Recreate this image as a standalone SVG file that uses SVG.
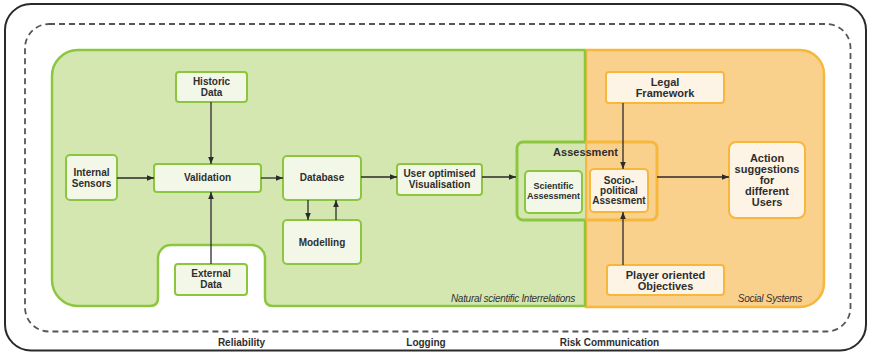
<svg xmlns="http://www.w3.org/2000/svg" width="869" height="354" viewBox="0 0 869 354">
  <defs>
    <marker id="arrow" viewBox="0 0 10 10" refX="10" refY="5" markerWidth="7" markerHeight="7" markerUnits="userSpaceOnUse" orient="auto">
      <path d="M0,1 L10,5 L0,9 Z" fill="#2b2b2b"/>
    </marker>
    <clipPath id="clipLeft"><rect x="0" y="0" width="585.5" height="354"/></clipPath>
    <clipPath id="clipRight"><rect x="585.5" y="0" width="300" height="354"/></clipPath>
  </defs>
  <style>
    .lbl { font-family: "Liberation Sans", Arial, sans-serif; font-weight: bold; fill: #2e2e2e; text-anchor: middle; }
    .s10 { font-size: 10px; }
    .s9 { font-size: 9px; }
    .s11 { font-size: 11px; }
    .zone { font-family: "Liberation Sans", Arial, sans-serif; font-style: italic; font-size: 10px; letter-spacing: -0.3px; fill: #333; text-anchor: end; }
    .gnode { fill: #f3f7e8; stroke: #8cc63f; stroke-width: 2; }
    .onode { fill: #fdf4e5; stroke: #f6b83c; stroke-width: 2; }
    .conn { stroke: #2b2b2b; stroke-width: 1.3; fill: none; marker-end: url(#arrow); }
    .gline { stroke: #8cc63f; stroke-width: 2.5; fill: none; }
  </style>

  <!-- outer frame -->
  <rect x="5" y="4" width="861" height="346.5" rx="26" ry="26" fill="#ffffff" stroke="#2a2a2a" stroke-width="2"/>
  <!-- dashed boundary -->
  <rect x="25" y="24" width="825.5" height="307.5" rx="24" ry="24" fill="none" stroke="#555" stroke-width="1.8" stroke-dasharray="6,4"/>

  <!-- social systems zone -->
  <g id="zone-social">
    <path d="M586,50 H800 A24,24 0 0 1 824,74 V283 A24,24 0 0 1 800,307 H586 Z" fill="#f9d08c" stroke="#f6b83c" stroke-width="2.5"/>
    <text class="zone" x="802" y="302">Social Systems</text>
  </g>

  <!-- natural scientific zone -->
  <g id="zone-natural">
    <path d="M585,50 H78 A26,26 0 0 0 52,76 V280 A26,26 0 0 0 78,306 H150 Q158,306 158,298 V258 A13,13 0 0 1 171,245 H252 A13,13 0 0 1 265,258 V298 Q265,306 273,306 H585 Z" fill="#d4e7b1"/>
    <path class="gline" d="M585,50 H78 A26,26 0 0 0 52,76 V280 A26,26 0 0 0 78,306 H150 Q158,306 158,298 V258 A13,13 0 0 1 171,245 H252 A13,13 0 0 1 265,258 V298 Q265,306 273,306 H585"/>
    <!-- zone divider, interrupted by the assessment frame -->
    <path class="gline" d="M585,50 V142 M585,220 V306"/>
    <text class="zone" x="575" y="302">Natural scientific Interrelations</text>
  </g>

  <!-- assessment container -->
  <g id="assessment">
    <rect x="517" y="142" width="140" height="78" rx="6" fill="none" stroke="#8cc63f" stroke-width="3" clip-path="url(#clipLeft)"/>
    <rect x="517" y="142" width="140" height="78" rx="6" fill="none" stroke="#f6b83c" stroke-width="3" clip-path="url(#clipRight)"/>
    <text class="lbl s11" x="585.5" y="156">Assessment</text>
  </g>

  <g id="historic-data">
    <rect class="gnode" x="176" y="72" width="71" height="30" rx="3"/>
    <text class="lbl s10" x="211.5" y="84.5">Historic</text>
    <text class="lbl s10" x="211.5" y="95.5">Data</text>
  </g>
  <g id="internal-sensors">
    <rect class="gnode" x="66" y="155" width="51" height="45" rx="4"/>
    <text class="lbl s10" x="91.5" y="175.5">Internal</text>
    <text class="lbl s10" x="91.5" y="186.5">Sensors</text>
  </g>
  <g id="validation">
    <rect class="gnode" x="154" y="164" width="107" height="28" rx="3"/>
    <text class="lbl s10" x="207.5" y="181">Validation</text>
  </g>
  <g id="external-data">
    <rect class="gnode" x="175" y="264" width="72" height="31" rx="3"/>
    <text class="lbl s10" x="211" y="276.5">External</text>
    <text class="lbl s10" x="211" y="287.5">Data</text>
  </g>
  <g id="database">
    <rect class="gnode" x="283" y="156" width="78" height="44" rx="4"/>
    <text class="lbl s10" x="322" y="181">Database</text>
  </g>
  <g id="modelling">
    <rect class="gnode" x="283" y="220" width="78" height="44" rx="4"/>
    <text class="lbl s10" x="322" y="245.5">Modelling</text>
  </g>
  <g id="visualisation">
    <rect class="gnode" x="397" y="164" width="85" height="31" rx="3"/>
    <text class="lbl s10" x="439.5" y="176.5">User optimised</text>
    <text class="lbl s10" x="439.5" y="187.5">Visualisation</text>
  </g>
  <g id="scientific-assessment">
    <rect class="gnode" x="525" y="171" width="57" height="42" rx="4"/>
    <text class="lbl s9" x="553.5" y="188.5">Scientific</text>
    <text class="lbl s9" x="553.5" y="198.5">Assessment</text>
  </g>
  <g id="sociopolitical-assessment">
    <rect class="onode" x="590" y="169" width="58" height="43" rx="4"/>
    <text class="lbl s10" x="619" y="183.5">Socio-</text>
    <text class="lbl s10" x="619" y="193.5">political</text>
    <text class="lbl s10" x="619" y="204">Assesment</text>
  </g>
  <g id="legal-framework">
    <rect class="onode" x="606" y="72" width="118" height="31" rx="3"/>
    <text class="lbl s11" x="665" y="86">Legal</text>
    <text class="lbl s11" x="665" y="97">Framework</text>
  </g>
  <g id="player-objectives">
    <rect class="onode" x="607" y="265" width="117" height="30" rx="3"/>
    <text class="lbl s11" x="665.5" y="279">Player oriented</text>
    <text class="lbl s11" x="665.5" y="290">Objectives</text>
  </g>
  <g id="action-suggestions">
    <rect class="onode" x="729" y="142" width="76" height="76" rx="7"/>
    <text class="lbl s11" x="767" y="161.5">Action</text>
    <text class="lbl s11" x="767" y="172.5">suggestions</text>
    <text class="lbl s11" x="767" y="183.5">for</text>
    <text class="lbl s11" x="767" y="194.5">different</text>
    <text class="lbl s11" x="767" y="205.5">Users</text>
  </g>

  <!-- connectors -->
  <g id="connectors">
    <line class="conn" x1="211" y1="102" x2="211" y2="164"/>
    <line class="conn" x1="117" y1="178" x2="154" y2="178"/>
    <line class="conn" x1="211" y1="264" x2="211" y2="192"/>
    <line class="conn" x1="261" y1="178" x2="283" y2="178"/>
    <line class="conn" x1="308" y1="200" x2="308" y2="220"/>
    <line class="conn" x1="336" y1="220" x2="336" y2="200"/>
    <line class="conn" x1="361" y1="177" x2="397" y2="177"/>
    <line class="conn" x1="482" y1="177" x2="516" y2="177"/>
    <line class="conn" x1="623" y1="103" x2="623" y2="169"/>
    <line class="conn" x1="623" y1="265" x2="623" y2="212"/>
    <line class="conn" x1="657" y1="177" x2="729" y2="177"/>
  </g>

  <!-- cross-cutting aspects -->
  <g id="aspects">
    <text class="lbl s10" x="241.5" y="346">Reliability</text>
    <text class="lbl s10" x="426" y="346">Logging</text>
    <text class="lbl s10" x="609.5" y="346">Risk Communication</text>
  </g>
</svg>
